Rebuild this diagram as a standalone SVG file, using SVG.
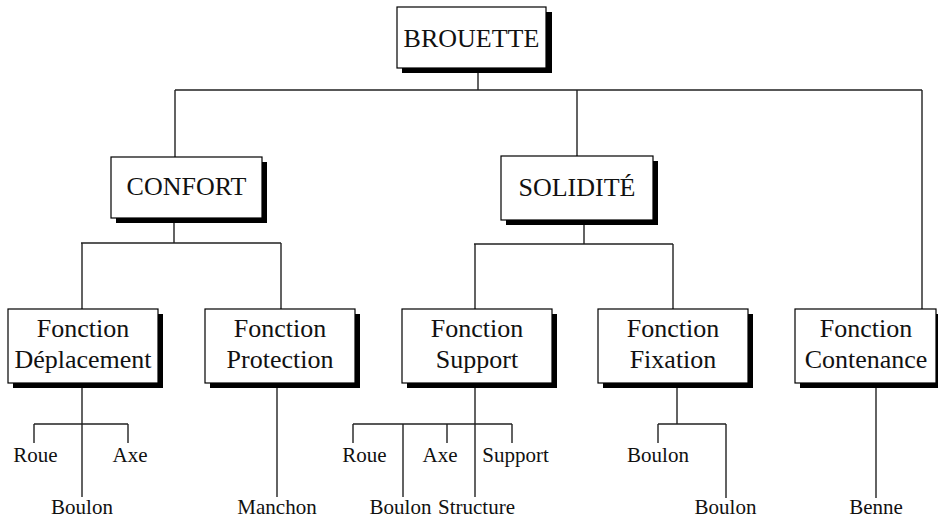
<svg xmlns="http://www.w3.org/2000/svg" width="938" height="525" viewBox="0 0 938 525">
  <style>
    .box { fill: #ffffff; stroke: #000000; stroke-width: 1.2; }
    .shadow { fill: #000000; }
    .lbl { font-size: 26px; fill: #111111; text-anchor: middle; }
    .leaf { font-size: 21px; fill: #111111; text-anchor: middle; }
    .wire { fill: none; stroke: #222222; stroke-width: 1.4; }
  </style>

  <!-- tree connectors -->
  <g id="connectors">
    <!-- BROUETTE to level 1 -->
    <path class="wire" d="M478 68 V90 M175 90 H922 M175 90 V157 M577 90 V156 M922 90 V309"/>
    <!-- CONFORT to its functions -->
    <path class="wire" d="M174 218 V243 M81 243 H281 M82 243 V309 M281 243 V309"/>
    <!-- SOLIDITE to its functions -->
    <path class="wire" d="M584 220 V244 M474 244 H673 M475 244 V309 M673 244 V309"/>
    <!-- Deplacement parts -->
    <path class="wire" d="M82 383 V497 M34 424 H128 M34 424 V443 M128 424 V443"/>
    <!-- Protection part -->
    <path class="wire" d="M277 383 V497"/>
    <!-- Support parts -->
    <path class="wire" d="M475 383 V497 M353 424 H512 M353 424 V443 M403 424 V497 M447 424 V443 M512 424 V443"/>
    <!-- Fixation parts -->
    <path class="wire" d="M677 383 V424 M658 424 H726 M658 424 V443 M726 424 V498"/>
    <!-- Contenance part -->
    <path class="wire" d="M876 383 V498"/>
  </g>

  <g font-family="Liberation Serif, Times New Roman, Times, serif">
  <g id="brouette">
    <rect class="shadow" x="402" y="12" width="150" height="61"/>
    <rect class="box" x="397" y="7" width="149" height="61"/>
    <text class="lbl" x="471.5" y="47">BROUETTE</text>
  </g>

  <g id="confort">
    <rect class="shadow" x="116" y="162" width="151" height="61"/>
    <rect class="box" x="111" y="157" width="151" height="61"/>
    <text class="lbl" x="186.5" y="195">CONFORT</text>
  </g>

  <g id="solidite">
    <rect class="shadow" x="506" y="161" width="152" height="64"/>
    <rect class="box" x="501" y="156" width="152" height="64"/>
    <text class="lbl" x="577" y="196">SOLIDITÉ</text>
  </g>

  <g id="f-deplacement">
    <rect class="shadow" x="13" y="314" width="150" height="74"/>
    <rect class="box" x="8" y="309" width="150" height="74"/>
    <text class="lbl" x="83" y="337">Fonction</text>
    <text class="lbl" x="83" y="368">Déplacement</text>
  </g>

  <g id="f-protection">
    <rect class="shadow" x="210" y="314" width="150" height="74"/>
    <rect class="box" x="205" y="309" width="150" height="74"/>
    <text class="lbl" x="280" y="337">Fonction</text>
    <text class="lbl" x="280" y="368">Protection</text>
  </g>

  <g id="f-support">
    <rect class="shadow" x="407" y="314" width="150" height="74"/>
    <rect class="box" x="402" y="309" width="150" height="74"/>
    <text class="lbl" x="477" y="337">Fonction</text>
    <text class="lbl" x="477" y="368">Support</text>
  </g>

  <g id="f-fixation">
    <rect class="shadow" x="603" y="314" width="150" height="74"/>
    <rect class="box" x="598" y="309" width="150" height="74"/>
    <text class="lbl" x="673" y="337">Fonction</text>
    <text class="lbl" x="673" y="368">Fixation</text>
  </g>

  <g id="f-contenance">
    <rect class="shadow" x="800" y="314" width="142" height="74"/>
    <rect class="box" x="795" y="309" width="141" height="74"/>
    <text class="lbl" x="866" y="337">Fonction</text>
    <text class="lbl" x="866" y="368">Contenance</text>
  </g>

  <!-- part labels -->
  <g id="parts-deplacement">
    <text class="leaf" x="35.5" y="462">Roue</text>
    <text class="leaf" x="130" y="462">Axe</text>
    <text class="leaf" x="82" y="514">Boulon</text>
  </g>
  <g id="parts-protection">
    <text class="leaf" x="277" y="514">Manchon</text>
  </g>
  <g id="parts-support">
    <text class="leaf" x="364.5" y="462">Roue</text>
    <text class="leaf" x="440" y="462">Axe</text>
    <text class="leaf" x="515.5" y="462">Support</text>
    <text class="leaf" x="400.5" y="514">Boulon</text>
    <text class="leaf" x="476.5" y="514">Structure</text>
  </g>
  <g id="parts-fixation">
    <text class="leaf" x="658" y="462">Boulon</text>
    <text class="leaf" x="725.5" y="514">Boulon</text>
  </g>
  <g id="parts-contenance">
    <text class="leaf" x="876" y="514">Benne</text>
  </g>
  </g>
</svg>
